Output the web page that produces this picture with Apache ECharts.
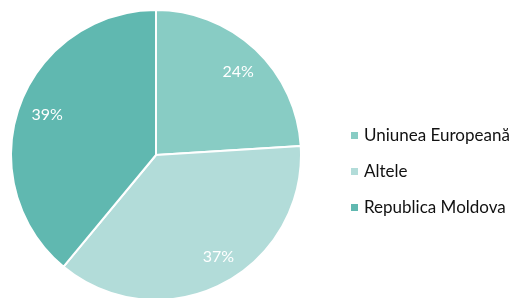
<!DOCTYPE html>
<html>
<head>
<meta charset="utf-8">
<script src="https://cdn.jsdelivr.net/npm/echarts@6/dist/echarts.min.js"></script>
<style>
  html, body { margin: 0; padding: 0; background: #fff; }
  #chart { width: 516px; height: 298px; }
</style>
</head>
<body>
<div id="chart"></div>
<script>
// ====== 数据 ======
const categories = ["Uniunea Europeană", "Altele", "Republica Moldova"];
const shares = [24, 37, 39];
const colors = ["#88ccc4", "#b2dcd9", "#60b8b0"];
// 标签微调（像素）
const labelOffsets = [[0, 4], [8, -5], [4, 0]];

const chart = echarts.init(document.getElementById("chart"));

const pieData = categories.map((name, i) => ({
  name: name,
  value: shares[i],
  itemStyle: { color: colors[i] }
}));

const option = {
  backgroundColor: "#fff",
  animation: false,
  legend: {
    orient: "vertical",
    left: 344,
    top: 122,
    itemWidth: 9,
    itemHeight: 9,
    itemGap: 19,
    icon: "rect",
    data: categories,
    textStyle: { fontFamily: "Lato", fontSize: 17, color: "#111" }
  },
  series: [
    {
      type: "pie",
      center: [156, 155],
      radius: 145,
      startAngle: 90,
      clockwise: true,
      label: { show: false },
      labelLine: { show: false },
      itemStyle: { borderColor: "#fff", borderWidth: 2 },
      data: pieData
    },
    {
      // 仅用于放置百分比标签（透明层）
      type: "pie",
      center: [156, 155],
      radius: [0, 234],
      startAngle: 90,
      clockwise: true,
      silent: true,
      itemStyle: { color: "rgba(0,0,0,0)" },
      label: {
        show: true,
        position: "inside",
        formatter: "{c}%",
        color: "#fff",
        fontFamily: "Lato",
        fontSize: 16
      },
      labelLine: { show: false },
      data: categories.map((name, i) => ({
        name: name,
        value: shares[i],
        label: { offset: labelOffsets[i] }
      }))
    }
  ]
};

chart.setOption(option);
</script>
</body>
</html>
